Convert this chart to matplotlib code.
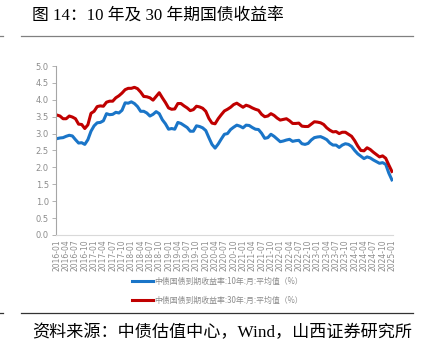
import matplotlib
matplotlib.use("Agg")
import matplotlib.pyplot as plt
from matplotlib.lines import Line2D
import numpy as np

plt.rcParams['font.family'] = ['Noto Sans CJK SC', 'DejaVu Sans']

months = [f"{y}-{m:02d}" for y in range(2016, 2026) for m in range(1, 13)][:109]

y10 = [2.85, 2.87, 2.88, 2.92, 2.95, 2.93, 2.82, 2.72, 2.73, 2.68, 2.82, 3.07,
       3.23, 3.32, 3.33, 3.38, 3.59, 3.56, 3.57, 3.63, 3.61, 3.69, 3.91, 3.90,
       3.94, 3.89, 3.80, 3.66, 3.66, 3.61, 3.52, 3.57, 3.65, 3.59, 3.41, 3.29,
       3.13, 3.15, 3.13, 3.33, 3.30, 3.24, 3.18, 3.07, 3.07, 3.23, 3.21, 3.17,
       3.09, 2.88, 2.68, 2.57, 2.69, 2.84, 2.98, 3.00, 3.12, 3.19, 3.25, 3.22,
       3.17, 3.25, 3.24, 3.18, 3.13, 3.12, 3.01, 2.86, 2.88, 2.98, 2.92, 2.84,
       2.76, 2.78, 2.81, 2.83, 2.77, 2.79, 2.80, 2.70, 2.68, 2.71, 2.81, 2.88,
       2.90, 2.91, 2.87, 2.82, 2.72, 2.66, 2.66, 2.59, 2.66, 2.70, 2.68, 2.62,
       2.50, 2.40, 2.33, 2.26, 2.31, 2.28, 2.22, 2.17, 2.12, 2.14, 2.09, 1.83,
       1.63]

y30 = [3.55, 3.52, 3.44, 3.44, 3.52, 3.49, 3.44, 3.28, 3.27, 3.15, 3.26, 3.60,
       3.66, 3.80, 3.82, 3.81, 3.93, 3.96, 3.96, 4.06, 4.12, 4.20, 4.30, 4.34,
       4.34, 4.37, 4.33, 4.23, 4.10, 4.09, 4.06, 3.99, 4.10, 4.21, 4.06, 3.92,
       3.76, 3.72, 3.73, 3.89, 3.89, 3.82, 3.76, 3.68, 3.71, 3.81, 3.79, 3.75,
       3.66, 3.45, 3.31, 3.29, 3.44, 3.56, 3.67, 3.72, 3.78, 3.86, 3.90, 3.84,
       3.78, 3.84, 3.81, 3.76, 3.72, 3.69, 3.57, 3.50, 3.52, 3.59, 3.54, 3.46,
       3.40, 3.42, 3.44, 3.38, 3.30, 3.30, 3.31, 3.22, 3.21, 3.21, 3.28, 3.35,
       3.34, 3.32, 3.27, 3.17, 3.10, 3.05, 3.06, 3.00, 3.04, 3.04, 2.98, 2.92,
       2.79, 2.63, 2.50, 2.49, 2.58, 2.53, 2.45, 2.38, 2.31, 2.34, 2.27, 2.07,
       1.88]

label10 = "中债国债到期收益率:10年:月:平均值（%）"
label30 = "中债国债到期收益率:30年:月:平均值（%）"
title = "图 14：10 年及 30 年期国债收益率"
source = "资料来源：中债估值中心，Wind，山西证券研究所"

blue = "#1A75C8"
red = "#C00000"
grey = "#8C8C8C"

fig = plt.figure(figsize=(4.27, 3.57), dpi=100)
ax = fig.add_axes([0.131, 0.342, 0.789, 0.473])

x = np.arange(len(months))
ax.plot(x, y10, color=blue, lw=2.2, solid_joinstyle='round')
ax.plot(x, y30, color=red, lw=2.2, solid_joinstyle='round')

ax.set_ylim(0, 5.0)
ax.set_yticks(np.arange(0, 5.01, 0.5))
ax.set_yticklabels([f"{v:.1f}" for v in np.arange(0, 5.01, 0.5)])
ax.set_xlim(-0.3, 108.3)
ticks = list(range(0, len(months), 3))
ax.set_xticks(ticks)
ax.set_xticklabels([months[i] for i in ticks], rotation=90)

for s in ['top', 'right']:
    ax.spines[s].set_visible(False)
ax.spines['left'].set_color('#A6A6A6')
ax.spines['left'].set_linewidth(0.8)
ax.spines['bottom'].set_color('#D9D9D9')
ax.spines['bottom'].set_linewidth(0.8)
ax.tick_params(axis='y', colors='#A6A6A6', labelcolor=grey, labelsize=6, length=3, width=0.6, pad=2)
ax.tick_params(axis='x', length=0, labelcolor=grey, labelsize=5.5, pad=3)
for lab in ax.get_xticklabels() + ax.get_yticklabels():
    lab.set_family('DejaVu Sans')

handles = [Line2D([], [], color=blue, lw=2.2), Line2D([], [], color=red, lw=2.2)]
leg = fig.legend(handles, [label10, label30], loc='center', bbox_to_anchor=(0.51, 0.186),
                 frameon=False, fontsize=5.7, handlelength=2.6, handletextpad=0.2,
                 labelspacing=1.3, labelcolor=grey)

serif_mix = ['Liberation Serif', 'Noto Sans CJK SC']
fig.text(0.075, 0.955, title, fontsize=12.1, color='black', va='center', ha='left',
         family=serif_mix)
fig.text(0.075, 0.067, source, fontsize=12.3, color='black', va='center', ha='left',
         family=serif_mix)

fig.add_artist(Line2D([0.049, 0.967], [0.899, 0.899], color='#808080', lw=0.9))
fig.add_artist(Line2D([0.0, 0.008], [0.899, 0.899], color='#808080', lw=0.9))
fig.add_artist(Line2D([0.049, 0.967], [0.123, 0.123], color='#333333', lw=0.9))
fig.add_artist(Line2D([0.0, 0.008], [0.123, 0.123], color='#333333', lw=0.9))

fig.savefig("out.png", dpi=100)
